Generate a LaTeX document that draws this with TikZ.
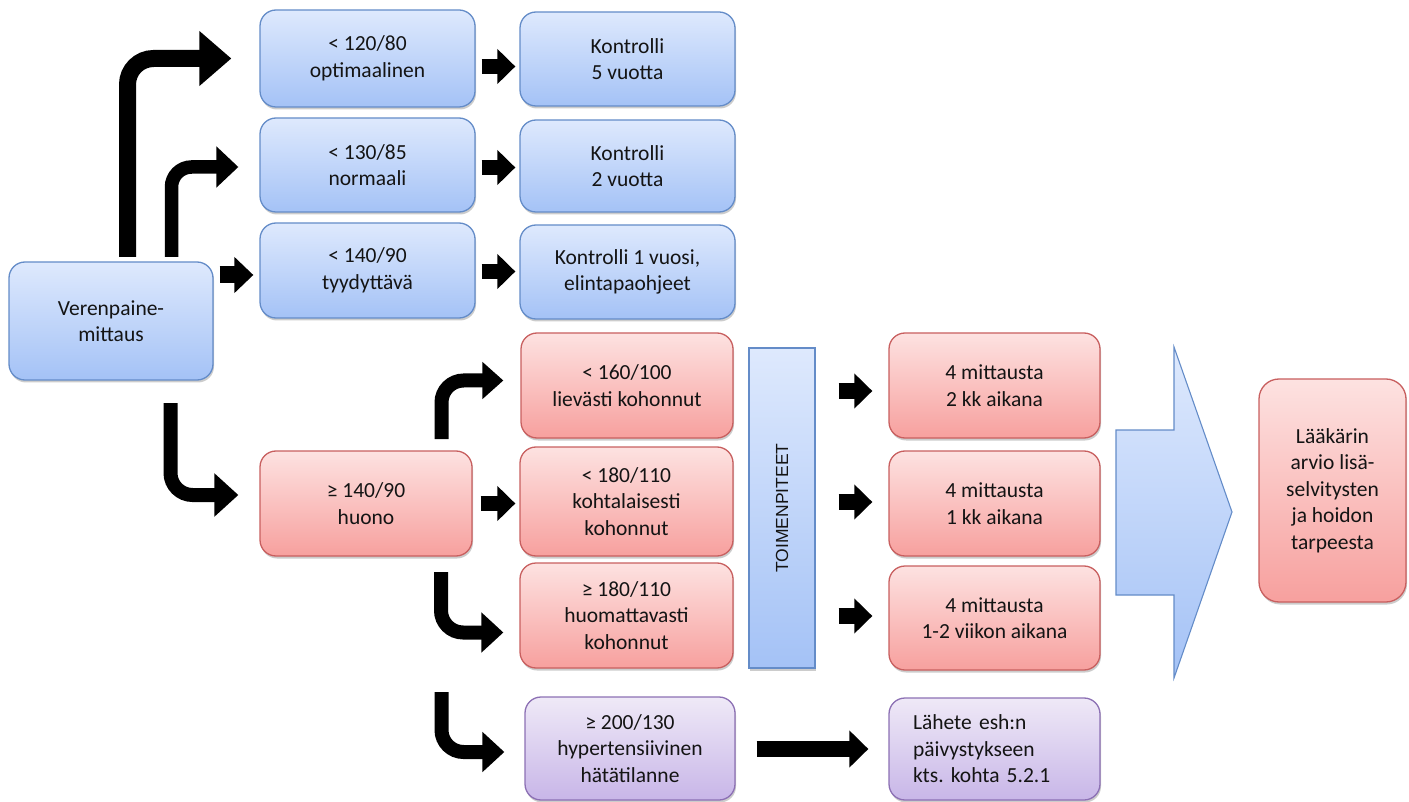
\documentclass[tikz,border=0pt]{standalone}
\usepackage{fontspec}
\setmainfont{Carlito}
\newfontfamily\barfont{Liberation Sans}
\usetikzlibrary{arrows.meta,shadows,calc}
\frenchspacing
\definecolor{bluetop}{RGB}{222,233,253}
\definecolor{bluebot}{RGB}{164,194,246}
\definecolor{blueline}{RGB}{100,140,200}
\definecolor{redtop}{RGB}{253,226,225}
\definecolor{redbot}{RGB}{247,160,158}
\definecolor{redline}{RGB}{200,95,95}
\definecolor{purtop}{RGB}{239,233,247}
\definecolor{purbot}{RGB}{200,182,232}
\definecolor{purline}{RGB}{140,112,180}
\definecolor{txt}{RGB}{20,20,20}
\begin{document}
\begin{tikzpicture}[x=1pt,y=-1pt,
  box/.style={rounded corners=16pt, line width=1.3pt, align=center, inner sep=0pt, text=txt,
     font=\fontsize{21.5}{26.5}\selectfont,
     drop shadow={shadow xshift=1pt, shadow yshift=-2.5pt, opacity=0.2, fill=black}},
  sz/.style 2 args={minimum width=#1pt, minimum height=#2pt},
  bluebox/.style={box, draw=blueline, top color=bluetop, bottom color=bluebot},
  redbox/.style={box, draw=redline, top color=redtop, bottom color=redbot},
  purbox/.style={box, draw=purline, top color=purtop, bottom color=purbot},
  sarrow/.style={draw=black, line width=15pt, -{Triangle[length=18pt,width=34pt]}},
  bentarrow/.style={draw=black, line width=14pt, rounded corners=22pt}
]
\useasboundingbox (0,0) rectangle (1409,802);

% left column
\node[bluebox, sz={204}{118}] (ver) at (111,321) {Verenpaine-\\mittaus};
\node[bluebox, sz={215}{97}] (b1) at (367.5,58.5) {< 120/80\\optimaalinen};
\node[bluebox, sz={215}{94}] (b2) at (367.5,165) {< 130/85\\normaali};
\node[bluebox, sz={215}{95}] (b3) at (367.5,270.5) {< 140/90\\tyydyttävä};
\node[bluebox, sz={215}{94}] (k1) at (627.5,59) {Kontrolli\\5 vuotta};
\node[bluebox, sz={215}{92}] (k2) at (627.5,166) {Kontrolli\\2 vuotta};
\node[bluebox, sz={215}{94}] (k3) at (627.5,272) {Kontrolli 1 vuosi,\\elintapaohjeet};

\node[redbox, sz={212}{105}] (huono) at (366,503.5) {≥ 140/90\\huono};
\node[redbox, sz={212}{105}] (m1) at (627,385.5) {< 160/100\\lievästi kohonnut};
\node[redbox, sz={213}{109}] (m2) at (626.5,501.5) {< 180/110\\kohtalaisesti\\kohonnut};
\node[redbox, sz={213}{105}] (m3) at (626.5,615.5) {≥ 180/110\\huomattavasti\\kohonnut};
\node[purbox, sz={210}{103}] (p1) at (630,748.5) {≥ 200/130\\hypertensiivinen\\hätätilanne};

\node[draw=blueline, line width=1.3pt, top color=bluetop, bottom color=bluebot, minimum width=66pt, minimum height=320pt, inner sep=0pt, text=txt,
  drop shadow={shadow xshift=1pt, shadow yshift=-2.5pt, opacity=0.2, fill=black}] (bar) at (782,508)
  {\rotatebox{90}{\barfont\fontsize{17.5}{20}\selectfont TOIMENPITEET}};

\node[redbox, sz={211}{105}] (r1) at (994.5,385.5) {4 mittausta\\2 kk aikana};
\node[redbox, sz={211}{105}] (r2) at (994.5,503.5) {4 mittausta\\1 kk aikana};
\node[redbox, sz={211}{104}] (r3) at (994.5,618) {4 mittausta\\1-2 viikon aikana};
\node[purbox, sz={211}{102}, align=left, text width=163pt, inner xsep=24pt] (p2) at (994.5,749) {Lähete esh:n\\päivystykseen\\kts. kohta 5.2.1};

\node[redbox, sz={147}{223}, rounded corners=20pt] (lk) at (1332.5,490.5) {Lääkärin\\arvio lisä-\\selvitysten\\ja hoidon\\tarpeesta};

% big arrow
\path[draw=blueline, line width=1.1pt, top color=bluetop, bottom color=bluebot]
  (1116,430) -- (1174,430) -- (1174,347) -- (1232,512) -- (1174,678) -- (1174,595) -- (1116,595) -- cycle;

% bent arrows from Verenpaine
\coordinate (s1) at (127.5,257);
\coordinate (s2) at (171.5,257);
\coordinate (s3) at (170.5,403);
\draw[draw=black, line width=17pt, rounded corners=26pt, -{Triangle[length=32pt,width=53pt]}, shorten >=28pt]
  (s1) |- (b1.west);
\draw[draw=black, line width=13.5pt, rounded corners=20pt, -{Triangle[length=22pt,width=40pt]}, shorten >=21pt]
  (s2) |- ($(b2.west)+(0,2)$);
\draw[draw=black, line width=17pt, -{Triangle[length=19pt,width=35pt]}, shorten <=6pt, shorten >=6pt]
  ($(ver.east |- b3.west)+(0,4.5)$) -- ($(b3.west)+(0,4.5)$);
\draw[bentarrow, -{Triangle[length=24pt,width=42pt]}, shorten >=21pt]
  (s3) |- ($(huono.west)+(0,-8.5)$);

% blue row arrows
\draw[sarrow, shorten <=6pt, shorten >=4pt] ($(b1.east)+(0,8)$) -- ($(k1.west |- b1.east)+(0,8)$);
\draw[sarrow, shorten <=6pt, shorten >=4pt] ($(b2.east)+(0,2.5)$) -- ($(k2.west |- b2.east)+(0,2.5)$);
\draw[sarrow, shorten <=6pt, shorten >=4pt] ($(b3.east)+(0,1)$) -- ($(k3.west |- b3.east)+(0,1)$);

% from huono
\draw[sarrow, shorten <=8pt, shorten >=4pt] (huono.east) -- (m2.west |- huono.east);
\coordinate (s4) at (441.5,439);
\coordinate (s5) at (441,572);
\coordinate (s6) at (441.5,692);
\draw[bentarrow, -{Triangle[length=21pt,width=36pt]}, shorten >=17pt] (s4) |- ($(m1.west)+(0,-5)$);
\draw[bentarrow, -{Triangle[length=22pt,width=39pt]}, shorten >=16pt] (s5) |- ($(m3.west)+(0,17)$);
\draw[bentarrow, -{Triangle[length=22pt,width=39pt]}, shorten >=20pt] (s6) |- ($(p1.west)+(0,3.5)$);

% bar to right boxes
\draw[sarrow, line width=16pt, shorten <=23pt, shorten >=16pt] ($(bar.east |- r1.west)+(0,5.5)$) -- ($(r1.west)+(0,5.5)$);
\draw[sarrow, line width=16pt, shorten <=23pt, shorten >=16pt] ($(bar.east |- r2.west)+(0,-1.5)$) -- ($(r2.west)+(0,-1.5)$);
\draw[sarrow, line width=16pt, shorten <=23pt, shorten >=16pt] ($(bar.east |- r3.west)+(0,-2)$) -- ($(r3.west)+(0,-2)$);

% long arrow
\draw[draw=black, line width=16pt, -{Triangle[length=19pt,width=36pt]}, shorten <=21pt, shorten >=20pt]
  (p1.east |- p2.west) -- (p2.west);
\end{tikzpicture}
\end{document}
